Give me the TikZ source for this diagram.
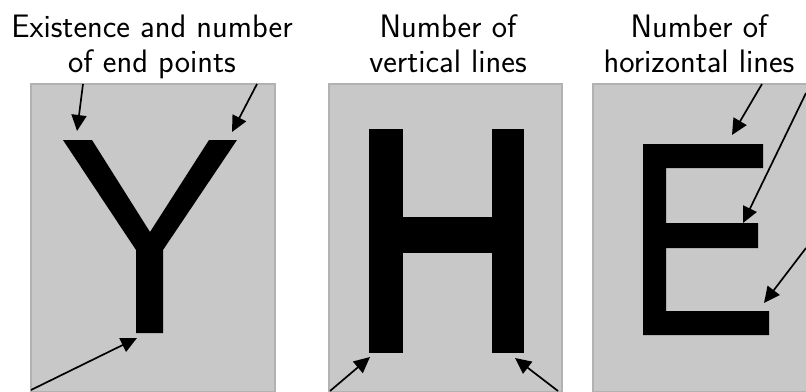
\documentclass[tikz,border=0pt]{standalone}
\usetikzlibrary{arrows.meta}
\definecolor{panelgray}{RGB}{200,200,200}
\definecolor{paneledge}{RGB}{178,178,178}
\begin{document}
\begin{tikzpicture}[x=1pt, y=-1pt, >={Triangle[length=16pt,width=15pt]},
    panel/.style={fill=panelgray, draw=paneledge, line width=2.5pt},
    title/.style={font=\sffamily\fontsize{32.5}{35}\selectfont, align=center, anchor=base},
    pointer/.style={->, line width=1.7pt}]
\useasboundingbox (0,0) rectangle (806,391);

% panels
\path[panel] (31,84) rectangle (275,392);
\path[panel] (329,84) rectangle (562,392);
\path[panel] (593,84) rectangle (808,392);

% titles
\node[title] (ytitle) at (152,72) {Existence and number\\of end points};
\node[title] (htitle) at (448,72) {Number of\\vertical lines};
\node[title] (etitle) at (699,72) {Number of\\horizontal lines};

% letters
\fill (63,140) -- (92,140) -- (150,232) -- (209,140) -- (237,140) -- (163,250)
      -- (163,333) -- (136,333) -- (136,250) -- cycle;
\fill (369,129) rectangle (403,353);
\fill (492,129) rectangle (524,353);
\fill (403,217) rectangle (492,253);
\fill (643,144) -- (763,144) -- (763,168) -- (666,168) -- (666,223) -- (758,223)
      -- (758,248) -- (666,248) -- (666,311) -- (769,311) -- (769,335) -- (643,335) -- cycle;

% arrow ends
\coordinate (yleftfrom) at (83,84);   \coordinate (yleftend) at (77,131);
\coordinate (yrightfrom) at (257,84); \coordinate (yrightend) at (232,132);
\coordinate (ystemfrom) at (31,390);  \coordinate (ystemend) at (137,338);
\coordinate (hleftfrom) at (330,391); \coordinate (hleftend) at (370,357);
\coordinate (hrightfrom) at (558,391);\coordinate (hrightend) at (515,358);
\coordinate (etopfrom) at (762,84);   \coordinate (etopend) at (732,135);
\coordinate (emidfrom) at (806,93);   \coordinate (emidend) at (743,223);
\coordinate (ebotfrom) at (806,248);  \coordinate (ebotend) at (764,303);

\draw[pointer] (yleftfrom) -- (yleftend);
\draw[pointer] (yrightfrom) -- (yrightend);
\draw[pointer] (ystemfrom) -- (ystemend);
\draw[pointer] (hleftfrom) -- (hleftend);
\draw[pointer] (hrightfrom) -- (hrightend);
\draw[pointer] (etopfrom) -- (etopend);
\draw[pointer] (emidfrom) -- (emidend);
\draw[pointer] (ebotfrom) -- (ebotend);
\end{tikzpicture}
\end{document}
